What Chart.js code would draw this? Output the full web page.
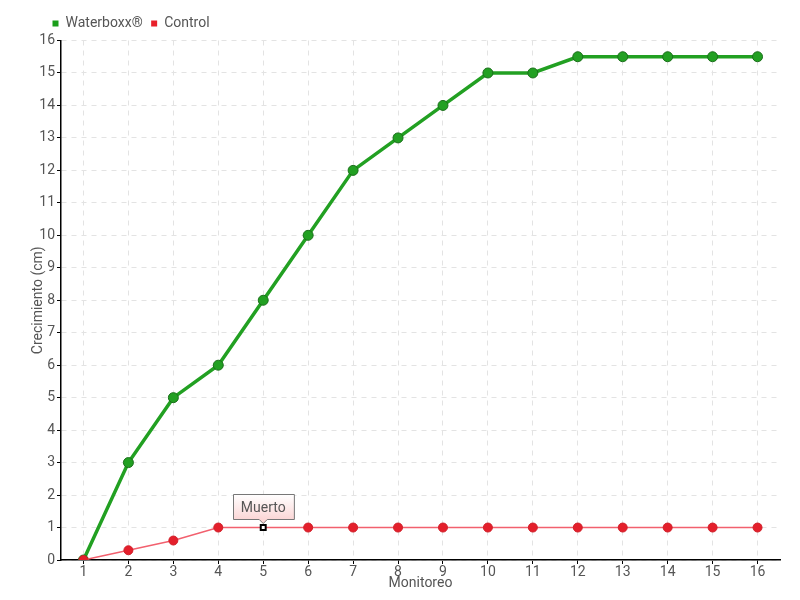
<!DOCTYPE html>
<html><head><meta charset="utf-8">
<script src="https://cdn.jsdelivr.net/npm/chart.js@4/dist/chart.umd.min.js"></script>
<style>html,body{margin:0;padding:0;background:#fff}#wrap{width:800px;height:600px}</style>
</head><body><div id="wrap"><canvas id="c" width="800" height="600"></canvas></div>
<script>
const categories = ['1','2','3','4','5','6','7','8','9','10','11','12','13','14','15','16'];
const waterboxx = [0,3,5,6,8,10,12,13,14,15,15,15.5,15.5,15.5,15.5,15.5];
const control = [0,0.3,0.6,1,1,1,1,1,1,1,1,1,1,1,1,1];
const seriesNames = ['Waterboxx®','Control'];
const noteIndex = 4;
const noteText = 'Muerto';
const yTitle = 'Crecimiento (cm)';
const xTitle = 'Monitoreo';

const FONT = 'Roboto,"Liberation Sans Narrow",sans-serif';

const notePlugin = {
  id:'note',
  beforeDraw(chart){
    if(chart.legend){ chart.legend.left = 44; }
  },
  afterDatasetsDraw(chart){
    const meta = chart.getDatasetMeta(1);
    const pt = meta.data[noteIndex];
    if(!pt) return;
    const ctx = chart.ctx;
    ctx.save();
    ctx.font = '14px ' + FONT;
    const tw = ctx.measureText(noteText).width;
    const w = tw + 16, h = 25;
    const x0 = Math.round(pt.x - w/2) + 0.5, y0 = Math.round(pt.y - 34) + 0.5;
    const g = ctx.createLinearGradient(0,y0,0,y0+h);
    g.addColorStop(0,'#ffffff'); g.addColorStop(1,'#fbd6d6');
    ctx.beginPath();
    ctx.moveTo(x0,y0); ctx.lineTo(x0+w,y0); ctx.lineTo(x0+w,y0+h);
    ctx.lineTo(pt.x+4,y0+h); ctx.lineTo(pt.x,y0+h+4); ctx.lineTo(pt.x-4,y0+h);
    ctx.lineTo(x0,y0+h); ctx.closePath();
    ctx.fillStyle = g; ctx.fill();
    ctx.strokeStyle = '#777'; ctx.lineWidth = 1; ctx.stroke();
    ctx.fillStyle = '#555'; ctx.textAlign='center'; ctx.textBaseline='middle';
    ctx.fillText(noteText, pt.x, y0 + h/2 + 1);
    ctx.restore();
  }
};

new Chart(document.getElementById('c'), {
  type:'line',
  data:{
    labels:categories,
    datasets:[
      {label:seriesNames[0], data:waterboxx, order:1, borderColor:'#22a022', backgroundColor:'#1a9e1a',
       borderWidth:3.5, pointRadius:5, pointHoverRadius:5, pointBackgroundColor:'#22a022',
       pointBorderColor:'#1b6f1b', pointBorderWidth:1, tension:0},
      {label:seriesNames[1], data:control, order:0, borderColor:'#f2606e', backgroundColor:'#e8202a',
       borderWidth:1.5, pointRadius:(c)=>c.dataIndex===noteIndex?3.5:4.5, pointHoverRadius:4.5,
       pointStyle:(c)=>c.dataIndex===noteIndex?'rect':'circle',
       pointBackgroundColor:(c)=>c.dataIndex===noteIndex?'#ffffff':'#e41f2b',
       pointBorderColor:(c)=>c.dataIndex===noteIndex?'#000000':'#d0202a',
       pointBorderWidth:(c)=>c.dataIndex===noteIndex?2:1, tension:0}
    ]
  },
  options:{
    responsive:false, animation:false, devicePixelRatio:1,
    layout:{padding:{left:0,right:20,top:8,bottom:4}},
    plugins:{
      tooltip:{enabled:false},
      legend:{display:true, position:'top', align:'start',
        labels:{boxWidth:6, boxHeight:6, padding:8.5, color:'#555', font:{family:FONT,size:14},
          generateLabels(chart){
            return chart.data.datasets.map((d,i)=>({text:d.label, fillStyle:d.backgroundColor, strokeStyle:d.backgroundColor, lineWidth:0, datasetIndex:i, fontColor:'#555'}));
          }}}
    },
    scales:{
      x:{offset:true,
        grid:{offset:false, color:'#e3e3e3', tickColor:'#000', tickLength:4, drawTicks:true},
        border:{color:'#000', width:1.5, dash:[5,5]},
        ticks:{color:'#555', font:{family:FONT,size:14}, padding:0, maxRotation:0, autoSkip:false},
        title:{display:true, text:xTitle, color:'#555', font:{family:FONT,size:14}, padding:{top:0,bottom:4}},
        afterFit(s){ s.height = 36; }
      },
      y:{min:0, max:16,
        grid:{color:'#e3e3e3', tickColor:'#000', tickLength:4},
        border:{color:'#000', width:1.5, dash:[5,5]},
        ticks:{stepSize:1, color:'#555', font:{family:FONT,size:14}, padding:2},
        title:{display:true, text:yTitle, color:'#555', font:{family:FONT,size:14}, padding:{top:30,bottom:0}},
        afterFit(s){ s.width = 61; }
      }
    }
  },
  plugins:[notePlugin]
});
</script></body></html>
